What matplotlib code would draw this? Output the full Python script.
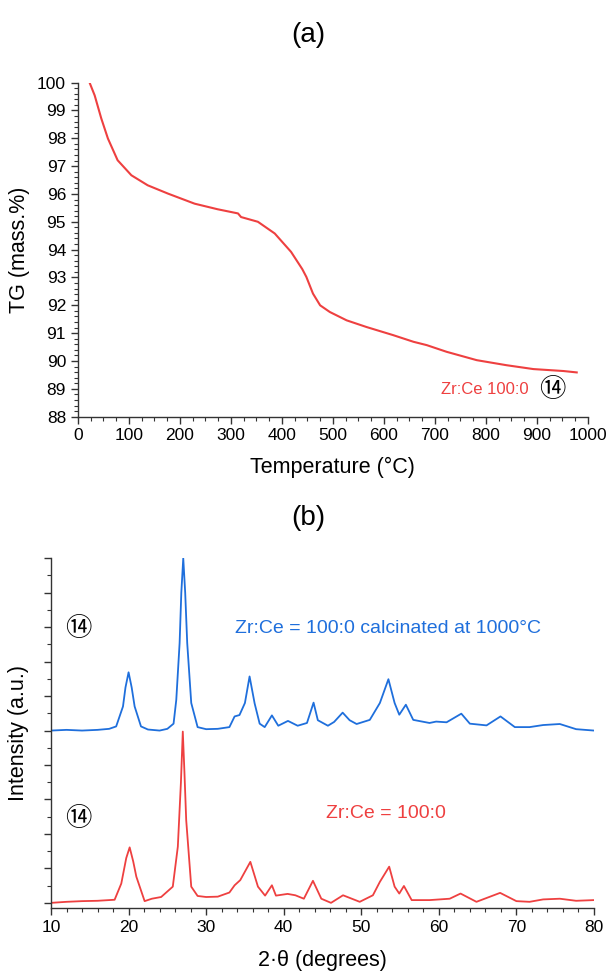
import numpy as np
import matplotlib
matplotlib.use('Agg')
import matplotlib.pyplot as plt
from matplotlib.ticker import MultipleLocator

# TG curve
tg_temp = [23, 33, 46, 59, 78, 105, 137, 177, 229, 274, 314, 320, 353, 386, 418, 440,
           448, 461, 475, 494, 527, 566, 618, 658, 684, 723, 782, 840, 893, 952, 978]
tg_mass = [100.0, 99.54, 98.71, 97.99, 97.21, 96.67, 96.31, 96.01, 95.65, 95.45, 95.30,
           95.17, 95.0, 94.58, 93.92, 93.3, 93.02, 92.42, 92.0, 91.76, 91.46, 91.22,
           90.93, 90.69, 90.57, 90.33, 90.03, 89.85, 89.71, 89.64, 89.59]

# XRD patterns (calcinated one already shifted up)
blue_2theta = [10, 12, 14, 16, 17.5, 18.4, 19.28, 19.6, 20.0, 20.4, 20.78, 21.6, 22.5, 24.0,
               25.0, 25.8, 26.15, 26.58, 26.8, 27.05, 27.3, 27.56, 28.08, 28.9, 30, 31.5,
               33.0, 33.67, 34.3, 35.0, 35.6, 36.25, 36.9, 37.55, 38.48, 39.3, 40.55, 41.8,
               43.0, 43.85, 44.4, 45.7, 46.5, 47.6, 48.5, 49.4, 51.1, 52.4, 53.5, 54.3,
               54.9, 55.75, 56.7, 58.8, 59.65, 61.0, 62.9, 64.0, 66.15, 67.95, 69.8, 71.7,
               73.45, 75.6, 77.7, 80]
blue_int = [5.0, 5.02, 5.0, 5.02, 5.05, 5.12, 5.70, 6.25, 6.69, 6.25, 5.70, 5.12, 5.03, 5.0,
            5.05, 5.2, 5.89, 7.54, 9.0, 10.0, 9.0, 7.54, 5.8, 5.1, 5.04, 5.05,
            5.1, 5.41, 5.45, 5.8, 6.57, 5.79, 5.2, 5.1, 5.44, 5.14, 5.28, 5.14,
            5.22, 5.81, 5.3, 5.14, 5.25, 5.52, 5.3, 5.19, 5.31, 5.80, 6.49, 5.80,
            5.46, 5.75, 5.31, 5.22, 5.26, 5.24, 5.49, 5.2, 5.15, 5.41, 5.10, 5.10,
            5.16, 5.19, 5.04, 5.0]

red_2theta = [10, 12, 14, 16, 18.2, 19.06, 19.7, 20.14, 20.6, 21.0, 22.07, 23.0, 24.2, 25.7,
              26.35, 26.75, 26.99, 27.2, 27.43, 28.08, 28.9, 30, 31.5, 33.0, 33.67, 34.4,
              35.7, 36.68, 37.6, 38.48, 39.0, 40.5, 41.5, 42.6, 43.77, 44.85, 46.1, 47.65,
              49.8, 51.5, 52.4, 53.6, 54.3, 54.9, 55.5, 56.5, 58.8, 61.4, 62.8, 64.85,
              67.9, 70.0, 71.7, 73.45, 75.6, 77.7, 80]
red_int = [0.0, 0.03, 0.05, 0.06, 0.09, 0.56, 1.3, 1.61, 1.2, 0.76, 0.05, 0.12, 0.17, 0.47,
           1.63, 3.5, 4.97, 3.8, 2.4, 0.47, 0.2, 0.17, 0.18, 0.3, 0.51, 0.66,
           1.19, 0.47, 0.21, 0.51, 0.21, 0.26, 0.22, 0.12, 0.64, 0.12, 0.0, 0.22,
           0.03, 0.22, 0.61, 1.05, 0.47, 0.27, 0.49, 0.08, 0.08, 0.12, 0.27, 0.03,
           0.29, 0.05, 0.03, 0.1, 0.12, 0.06, 0.08]

red = '#ee4040'
blue = '#1f6fdc'
circ_font = ['Noto Sans CJK JP', 'DejaVu Sans']


def style_axes(ax):
	for s in ['top', 'right']:
		ax.spines[s].set_visible(False)
	for s in ['left', 'bottom']:
		ax.spines[s].set_color('#333333')
		ax.spines[s].set_linewidth(1.0)
	ax.tick_params(which='major', direction='out', length=5, width=1, colors='#333333',
	               labelcolor='black', labelsize=12.5)
	ax.tick_params(which='minor', direction='out', length=3, width=0.8, colors='#333333')


def draw():
	plt.rcParams['font.family'] = ['Liberation Sans', 'DejaVu Sans']
	fig = plt.figure(figsize=(6.08, 9.77), dpi=100)

	# (a) TG
	ax1 = fig.add_axes([0.128, 0.5735, 0.839, 0.342])
	ax1.plot(tg_temp, tg_mass, color=red, lw=1.5)
	ax1.set_xlim(0, 1000)
	ax1.set_ylim(88, 100)
	ax1.xaxis.set_major_locator(MultipleLocator(100))
	ax1.xaxis.set_minor_locator(MultipleLocator(25))
	ax1.yaxis.set_major_locator(MultipleLocator(1))
	ax1.yaxis.set_minor_locator(MultipleLocator(0.2))
	style_axes(ax1)
	ax1.set_xlabel("Temperature (\u00b0C)", fontsize=15.5)
	ax1.set_ylabel("TG (mass.%)", fontsize=15.5)
	ax1.xaxis.set_label_coords(0.5, -0.12)
	ax1.yaxis.set_label_coords(-0.093, 0.5)
	ax1.text(0.798, 0.08, "Zr:Ce 100:0", transform=ax1.transAxes, color=red,
	         fontsize=12, ha='center', va='center')
	ax1.text(0.931, 0.082, "\u246d", transform=ax1.transAxes, color='black',
	         fontsize=19, ha='center', va='center', family=circ_font)

	# (b) XRD
	ax2 = fig.add_axes([0.0839, 0.0706, 0.893, 0.358])
	ax2.plot(blue_2theta, blue_int, color=blue, lw=1.3)
	ax2.plot(red_2theta, red_int, color=red, lw=1.3)
	ax2.set_xlim(10, 80)
	ax2.set_ylim(-0.15, 10)
	ax2.xaxis.set_major_locator(MultipleLocator(10))
	ax2.xaxis.set_minor_locator(MultipleLocator(2))
	ax2.yaxis.set_major_locator(MultipleLocator(1))
	ax2.yaxis.set_minor_locator(MultipleLocator(0.5))
	style_axes(ax2)
	ax2.tick_params(axis='y', which='both', labelleft=False)
	ax2.set_xlabel("2\u00b7\u03b8 (degrees)", fontsize=15.5)
	ax2.set_ylabel("Intensity (a.u.)", fontsize=15.5)
	ax2.xaxis.set_label_coords(0.5, -0.12)
	ax2.yaxis.set_label_coords(-0.04, 0.5)
	ax2.text(0.62, 0.8, "Zr:Ce = 100:0 calcinated at 1000\u00b0C", transform=ax2.transAxes,
	         color=blue, fontsize=14, ha='center', va='center')
	ax2.text(0.617, 0.269, "Zr:Ce = 100:0", transform=ax2.transAxes,
	         color=red, fontsize=14, ha='center', va='center')
	ax2.text(0.05, 0.8, "\u246d", transform=ax2.transAxes, color='black',
	         fontsize=19, ha='center', va='center', family=circ_font)
	ax2.text(0.05, 0.257, "\u246d", transform=ax2.transAxes, color='black',
	         fontsize=19, ha='center', va='center', family=circ_font)

	fig.text(0.507, 0.964, "(a)", fontsize=20, ha='center', va='center')
	fig.text(0.507, 0.47, "(b)", fontsize=20, ha='center', va='center')

	plt.savefig("out.png", dpi=100)


def main():
	draw()


if __name__ == "__main__":
	main()
